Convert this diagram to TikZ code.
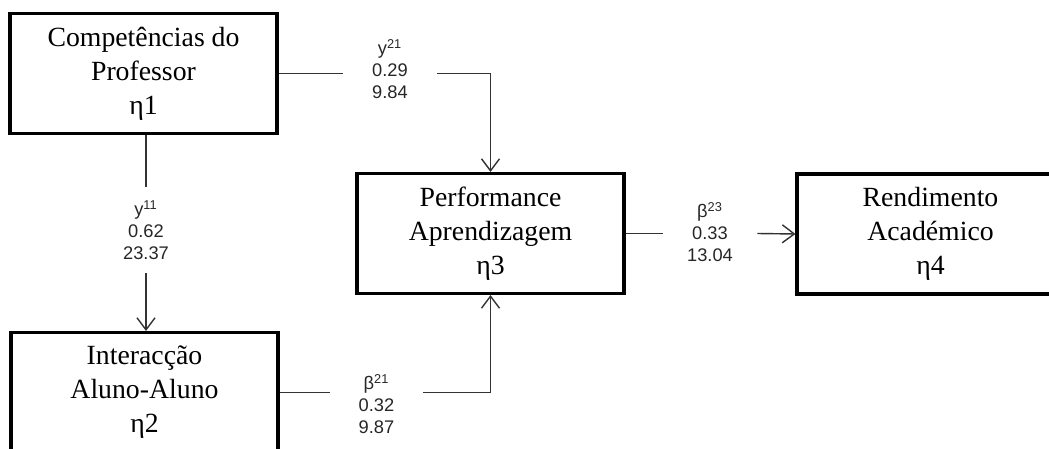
\documentclass[tikz,border=0pt]{standalone}
\usepackage{fontspec}
\setmainfont{Liberation Serif}
\newfontfamily\coeffont{Liberation Sans}
\usetikzlibrary{arrows.meta}
\tikzset{
  construct/.style={draw=black, line width=1.8pt, minimum width=5.34cm,
    minimum height=2.4cm, align=center, inner sep=0pt,
    font=\fontsize{15.8}{19.3}\selectfont},
  coef/.style={align=center, inner sep=0pt, text=black!85,
    font=\coeffont\fontsize{10.4}{12.5}\selectfont},
  link/.style={draw=black!80, line width=0.8pt}
}
\begin{document}
\begin{tikzpicture}[x=0.02cm, y=-0.02cm, >={Straight Barb[length=2.4mm,width=3.6mm]}]
    \clip (0,0) rectangle (1049,449);
    \node[construct] (comp) at (143.5,73.5) {Competências do\\Professor\\η1};
    \node[construct] (inter) at (144.5,392.5) {Interacção\\Aluno-Aluno\\η2};
    \node[construct] (perf) at (490.5,233.5) {Performance\\Aprendizagem\\η3};
    \node[construct] (rend) at (930.5,234) {Rendimento\\Académico\\η4};
    % path coefficients
    \node[coef, minimum width=1.88cm] (g21) at (390,69) {y\textsuperscript{21}\\0.29\\9.84};
    \node[coef, minimum height=1.72cm] (g11) at (146,230) {y\textsuperscript{11}\\0.62\\23.37};
    \node[coef, minimum width=1.88cm] (b23) at (710,232) {β\textsuperscript{23}\\0.33\\13.04};
    \node[coef, minimum width=1.86cm] (b21) at (376.5,404) {β\textsuperscript{21}\\0.32\\9.87};
    \draw[link] (comp.south -| g11) -- (g11.north);
    \draw[link,->] (g11.south) -- (g11 |- inter.north);
    \draw[link] (comp.east) -- (g21.west |- comp.east);
    \draw[link,->] (g21.east |- comp.east) -| (perf.north);
    \draw[link] (inter.east) -- (b21.west |- inter.east);
    \draw[link,->] (b21.east |- inter.east) -| (perf.south);
    \draw[link] (perf.east) -- (b23.west |- perf.east);
    \draw[link,->] (b23.east |- perf.east) -- (rend.west);
\end{tikzpicture}
\end{document}
